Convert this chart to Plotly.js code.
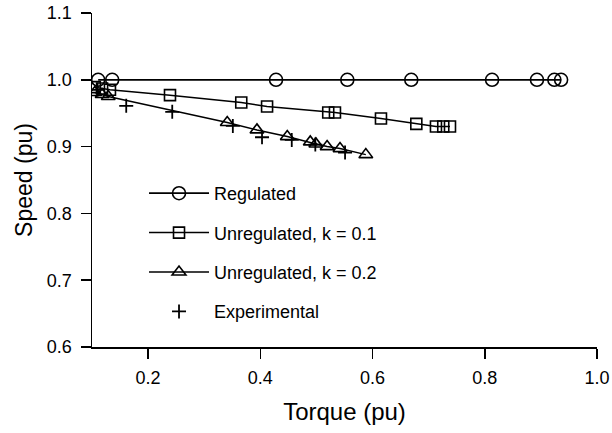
<!DOCTYPE html>
<html><head><meta charset="utf-8">
<script src="https://cdn.plot.ly/plotly-3.0.1.min.js"></script>
<style>html,body{margin:0;padding:0;background:#fff}</style>
</head><body><div id="chart" style="width:612px;height:433px"></div>
<script>
// Regulated
const regTorque = [0.111, 0.136, 0.428, 0.555, 0.669, 0.813, 0.893, 0.924, 0.936];
const regSpeed  = [1.000, 1.000, 1.000, 1.000, 1.000, 1.000, 1.000, 1.000, 1.000];
// Unregulated, k = 0.1
const k1Torque = [0.105, 0.118, 0.132, 0.239, 0.366, 0.412, 0.521, 0.533, 0.615, 0.678, 0.713, 0.726, 0.738];
const k1Speed  = [0.989, 0.987, 0.985, 0.977, 0.966, 0.960, 0.951, 0.951, 0.942, 0.934, 0.930, 0.930, 0.930];
// Unregulated, k = 0.2
const k2Torque = [0.105, 0.118, 0.129, 0.341, 0.394, 0.448, 0.489, 0.499, 0.519, 0.542, 0.588];
const k2Speed  = [0.981, 0.978, 0.975, 0.936, 0.925, 0.915, 0.907, 0.904, 0.900, 0.897, 0.888];
// Experimental
const expTorque = [0.110, 0.161, 0.243, 0.351, 0.403, 0.456, 0.498, 0.551];
const expSpeed  = [0.985, 0.961, 0.952, 0.931, 0.914, 0.910, 0.903, 0.891];

const xTicks = [0.2, 0.4, 0.6, 0.8, 1.0];
const yTicks = [0.6, 0.7, 0.8, 0.9, 1.0, 1.1];

const FONT = 'Liberation Sans, Arial, Helvetica, sans-serif';

const traces = [
  {x: regTorque, y: regSpeed, name: 'Regulated', mode: 'lines+markers', legendgroup: 'a',
   line: {color: 'black', width: 1.8},
   marker: {symbol: 'circle-open', size: 13, color: 'black', line: {width: 1.6}}},
  {x: k1Torque, y: k1Speed, name: 'Unregulated, k = 0.1', mode: 'lines+markers', legendgroup: 'b',
   line: {color: 'black', width: 1.5},
   marker: {symbol: 'square-open', size: 11, color: 'black', line: {width: 1.6}}},
  {x: k2Torque, y: k2Speed, name: 'Unregulated, k = 0.2', mode: 'lines+markers', legendgroup: 'c',
   line: {color: 'black', width: 1.5},
   marker: {symbol: 'triangle-up-open', size: 12, color: 'black', line: {width: 1.6}}},
  {x: expTorque, y: expSpeed, name: 'Experimental', mode: 'markers', legendgroup: 'd',
   marker: {symbol: 'cross-thin-open', size: 10, color: 'black', line: {width: 1.8}}}
];

const layout = {
  width: 612, height: 433,
  margin: {l: 92, r: 15, t: 13, b: 86},
  paper_bgcolor: 'white', plot_bgcolor: 'white',
  font: {family: FONT, color: 'black', size: 18},
  showlegend: true,
  legend: {x: 0.103, y: 0.515, xanchor: 'left', yanchor: 'top', bgcolor: 'rgba(0,0,0,0)',
           font: {size: 18}, tracegroupgap: 13, itemwidth: 60, traceorder: 'grouped'},
  xaxis: {range: [0.1, 1.0], tickvals: xTicks, tickformat: '.1f',
          showline: true, linecolor: 'black', linewidth: 1.5, mirror: false,
          ticks: 'outside', ticklen: 10, tickwidth: 1.5, tickcolor: 'black',
          showgrid: false, zeroline: false, tickfont: {size: 18}, ticklabelstandoff: 4,
          title: {text: 'Torque (pu)', font: {size: 24}, standoff: 16}},
  yaxis: {range: [0.6, 1.1], tickvals: yTicks, tickformat: '.1f',
          showline: true, linecolor: 'black', linewidth: 1.5, mirror: false,
          ticks: 'outside', ticklen: 10, tickwidth: 1.5, tickcolor: 'black',
          showgrid: false, zeroline: false, tickfont: {size: 18}, ticklabelstandoff: 5,
          title: {text: 'Speed (pu)', font: {size: 23}, standoff: 8}}
};

Plotly.newPlot('chart', traces, layout, {displayModeBar: false, staticPlot: true});
</script>
</body></html>
